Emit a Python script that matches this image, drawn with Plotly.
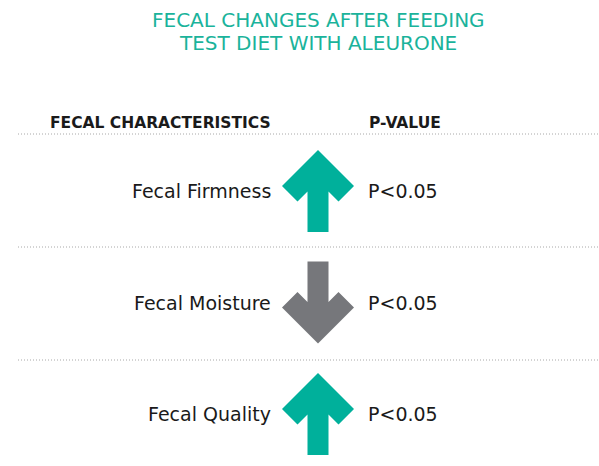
import plotly.graph_objects as go

# ---- data ----
title_lines = ["FECAL CHANGES AFTER FEEDING", "TEST DIET WITH ALEURONE"]
col_headers = ["FECAL CHARACTERISTICS", "P-VALUE"]
characteristics = ["Fecal Firmness", "Fecal Moisture", "Fecal Quality"]
directions = ["up", "down", "up"]
p_values = ["P<0.05", "P<0.05", "P<0.05"]

# ---- style ----
W, H = 599, 466
TEAL = "#00b09b"
GRAY = "#76777b"
TEXT = "#1a1a1a"
FONT = "DejaVu Sans"
ROW0, ROW_STEP = 191, 111.5
RULE0, RULE_STEP = 134, 113
ARROW_X = 318
LABEL_RIGHT = 273
PVAL_LEFT = 366
ARROW_LEN, HEAD_HALF, SHAFT_HALF, ARM = 82, 36, 10.5, 31


def arrow_poly(cx, cy, direction):
    h = ARROW_LEN
    pts = [
        (0, 0),
        (HEAD_HALF, HEAD_HALF),
        (HEAD_HALF - ARM / 2, HEAD_HALF + ARM / 2),
        (SHAFT_HALF, SHAFT_HALF + ARM),
        (SHAFT_HALF, h),
        (-SHAFT_HALF, h),
        (-SHAFT_HALF, SHAFT_HALF + ARM),
        (-(HEAD_HALF - ARM / 2), HEAD_HALF + ARM / 2),
        (-HEAD_HALF, HEAD_HALF),
        (0, 0),
    ]
    sign = 1 if direction == "up" else -1
    xs = [cx + px for px, py in pts]
    ys = [cy + sign * (py - h / 2) for px, py in pts]
    return xs, ys


fig = go.Figure()
annotations = []
shapes = []

for i, (name, d, p) in enumerate(zip(characteristics, directions, p_values)):
    cy = ROW0 + i * ROW_STEP
    xs, ys = arrow_poly(ARROW_X, cy, d)
    fig.add_trace(go.Scatter(
        x=xs, y=ys, mode="lines", fill="toself",
        fillcolor=TEAL if d == "up" else GRAY,
        line=dict(width=0), hoverinfo="skip", showlegend=False,
    ))
    annotations.append(dict(x=LABEL_RIGHT, y=cy, text=name, xanchor="right",
                            yanchor="middle", showarrow=False,
                            font=dict(family=FONT, size=19, color=TEXT)))
    annotations.append(dict(x=PVAL_LEFT, y=cy, text=p, xanchor="left",
                            yanchor="middle", showarrow=False,
                            font=dict(family=FONT, size=19, color=TEXT)))

for i in range(len(characteristics)):
    y = RULE0 + i * RULE_STEP
    shapes.append(dict(type="line", x0=18, x1=W, y0=y, y1=y, xref="x", yref="y",
                       line=dict(color="#a8a8a8", width=1, dash="1px,2px")))

annotations.append(dict(x=48, y=123, text="<b>" + col_headers[0] + "</b>",
                        xanchor="left", yanchor="middle", showarrow=False,
                        font=dict(family=FONT, size=15.5, color=TEXT)))
annotations.append(dict(x=367, y=123, text="<b>" + col_headers[1] + "</b>",
                        xanchor="left", yanchor="middle", showarrow=False,
                        font=dict(family=FONT, size=15.5, color=TEXT)))
for j, line in enumerate(title_lines):
    annotations.append(dict(x=318, y=20 + j * 23, text=line,
                            xanchor="center", yanchor="middle", showarrow=False,
                            font=dict(family=FONT, size=20, color="#1ab39b")))

fig.update_layout(
    width=W, height=H,
    margin=dict(l=0, r=0, t=0, b=0),
    paper_bgcolor="white", plot_bgcolor="white",
    xaxis=dict(range=[0, W], visible=False, fixedrange=True),
    yaxis=dict(range=[H, 0], visible=False, fixedrange=True),
    annotations=annotations, shapes=shapes,
)

fig.write_html("out.html", config={"displayModeBar": False},
               post_script="document.body.style.margin='0';document.body.style.overflow='hidden';")
